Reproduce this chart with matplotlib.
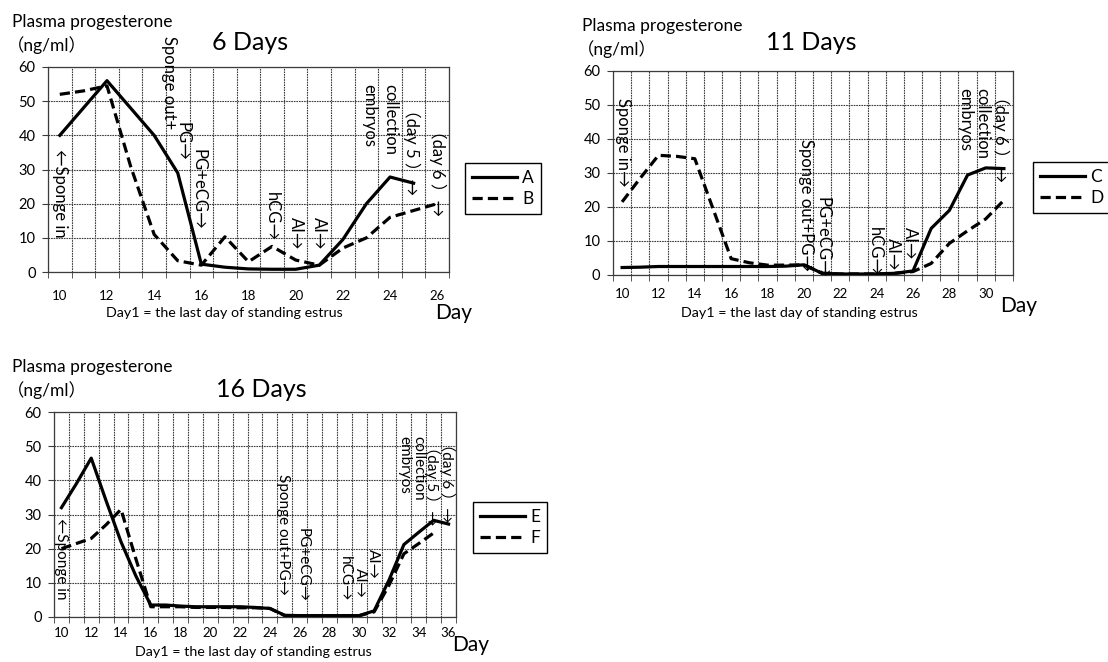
import numpy as np
import matplotlib
matplotlib.use("Agg")
import matplotlib.pyplot as plt

plt.rcParams.update({"font.family": ["Lato", "Noto Sans CJK JP", "DejaVu Sans"], "font.size": 9,
                     "axes.linewidth": 0.9})
W, H = 1108, 662
nan = np.nan
GRID = "#3c3c3c"; DASH = (0, (3.2, 1.6))

# 6 days treatment (days 10..26)
DAYS_6 = list(range(10, 27))
A = [40, 48, 56, 48, 40, 29, 2.3, 1.4, 0.9, 0.8, 0.8, 2, 9.5, 20, 27.8, 26, nan]
B = [52, 53, 54.5, 31, 11, 3.3, 2, 10.3, 3, 7.5, 3.5, 2, 7, 10, 16, 18, 20]
# 11 days treatment (days 10..31)
DAYS_11 = list(range(10, 32))
C = [2.2, 2.3, 2.5, 2.5, 2.5, 2.5, 2.5, 2.5, 2.5, 2.6, 3, 0.5, 0.3, 0.3, 0.3, 0.5, 1.2,
     13.7, 19, 29.4, 31.5, 31.3]
D = [21.5, 28.5, 35.2, 34.9, 34.2, 19.5, 4.8, 3.6, 2.9, 2.9, 3, 0.5, 0.3, 0.3, 0.3, 0.5, 1,
     3.4, 9.3, 13, 16.5, 22]
# 16 days treatment (days 10..36)
DAYS_16 = list(range(10, 37))
E = [32, 39, 46.5, 34, 22, 12, 3.5, 3.5, 3.2, 3, 3, 3, 3, 2.8, 2.5, 0.5, 0.4, 0.4, 0.4, 0.4,
     0.4, 1.8, 10.8, 21.2, 24.8, 28.3, 27.2]
F = [20, 21.5, 23, 27, 31.5, 17, 3, 3, 3, 2.8, 2.8, 2.8, 2.7, 2.7, 2.5, 0.4, 0.4, 0.4, 0.4,
     0.4, 0.4, 1.5, 9.3, 18.5, 21.5, 24.6, nan]

# event notes: text, day, top of the text in ng/ml
NOTES_6 = [("←Sponge in", 10.0, 36), ("Sponge out+", 14.65, 69), ("PG→", 15.2, 44),
           ("PG+eCG→", 15.9, 36), ("hCG→", 19.0, 23.5), ("AI→", 20.0, 16), ("AI→", 21.0, 16),
           ("embryos", 23.1, 55), ("collection", 24.0, 55), ("（day 5 ）→", 24.9, 50),
           ("（day 6 ）→", 26.0, 44)]
NOTES_11 = [("Sponge in→", 10.05, 52), ("Sponge out+PG→", 20.1, 40), ("PG+eCG→", 21.0, 23),
            ("hCG→", 23.9, 14), ("AI→", 24.9, 11), ("AI→", 25.85, 14), ("embryos", 28.9, 55),
            ("collection", 29.8, 55), ("（day 6 ）→", 30.8, 55)]
NOTES_16 = [("←Sponge in", 10.0, 29), ("Sponge out+PG→", 24.9, 42), ("PG+eCG→", 26.2, 26),
            ("hCG→", 29.05, 18), ("AI→", 30.05, 14.3), ("AI→", 30.9, 20), ("embryos", 33.0, 53),
            ("collection", 33.95, 53), ("（day 5 ）→", 34.9, 52), ("（day 6 ）→", 35.9, 53)]


def px(x, y):
    return x / W, 1 - y / H


def panel(fig, box, days, s1, s2, names, notes, title, tpos, hpos, xpad, lab_pos, day_pos, leg_pos,
          note_fs=12):
    l, t, r, b = box
    ax = fig.add_axes([l / W, 1 - b / H, (r - l) / W, (b - t) / H])
    ax.plot(days, s1, color="black", lw=2.3, label=names[0], zorder=3)
    ax.plot(days, s2, color="black", lw=2.3, ls=DASH, dash_capstyle="butt", label=names[1], zorder=3)
    ax.set_xlim(days[0] - 0.5, days[-1] + 0.5); ax.set_ylim(0, 60)
    ax.set_xticks(days[::2]); ax.set_xticks(np.arange(days[0] - 0.5, days[-1] + 1), minor=True)
    ax.set_yticks(range(0, 61, 10))
    ax.tick_params(axis="x", which="major", length=0, pad=xpad, labelsize=9.5)
    ax.tick_params(axis="x", which="minor", length=4, color=GRID)
    ax.tick_params(axis="y", length=4, color=GRID, labelsize=10.5, pad=5)
    ax.grid(which="minor", axis="x", color=GRID, lw=0.8, ls=(0, (1.5, 0.8)))
    ax.grid(which="major", axis="y", color=GRID, lw=0.8, ls=(0, (1.5, 0.8)))
    ax.grid(which="major", axis="x", visible=False)
    for sp in ax.spines.values(): sp.set_color(GRID)
    for txt, x, y in notes:
        ax.text(x, y, txt, rotation=-90, ha="center", va="top", fontsize=note_fs, clip_on=False, zorder=4)
    fig.text(*px(*tpos), title, fontsize=18, ha="center", va="center")
    fig.text(*px(hpos[0], hpos[1]), "Plasma progesterone", fontsize=12.5, ha="left", va="center")
    fig.text(*px(hpos[0] - 5, hpos[1] + 23), "（ng/ml）", fontsize=12.5, ha="left", va="center")
    fig.text(*px(*lab_pos), "Day1 = the last day of standing estrus", fontsize=10.3, ha="center", va="center")
    fig.text(*px(*day_pos), "Day", fontsize=15, ha="left", va="center")
    leg = fig.legend(*ax.get_legend_handles_labels(), loc="upper left", bbox_to_anchor=px(*leg_pos),
                     fancybox=False, edgecolor="black", framealpha=1, fontsize=12.5, handlelength=2.6,
                     borderpad=0.4, labelspacing=0.3, handletextpad=0.3, borderaxespad=0)
    leg.get_frame().set_linewidth(1.0)
    return ax


fig = plt.figure(figsize=(W / 100, H / 100), dpi=100)
panel(fig, (48, 67, 449, 272), DAYS_6, A, B, ("A", "B"), NOTES_6, "6 Days", (250, 42), (12, 22),
      13, (224, 313), (435, 313), (465, 163))
panel(fig, (613, 71, 1013, 275), DAYS_11, C, D, ("C", "D"), NOTES_11, "11 Days", (811, 43), (582, 26),
      9, (799, 313), (1000, 306), (1033, 162))
panel(fig, (54, 412, 456, 617), DAYS_16, E, F, ("E", "F"), NOTES_16, "16 Days", (261, 389), (12, 367),
      7, (253, 652), (452, 645), (473, 502), note_fs=11)
fig.savefig("out.png", dpi=100)
